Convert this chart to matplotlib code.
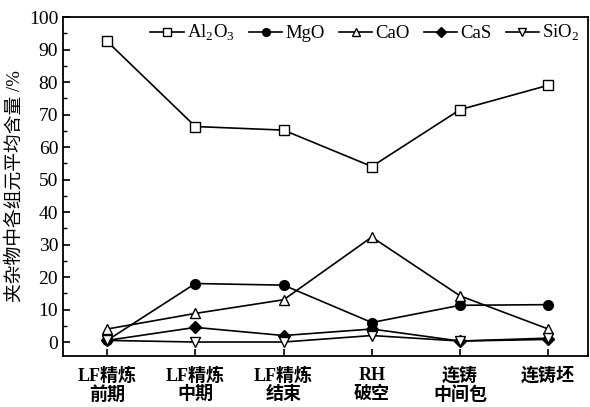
import matplotlib
matplotlib.use("Agg")
import matplotlib.pyplot as plt

plt.rcParams['font.family'] = ['Liberation Serif', 'Noto Sans CJK SC']
plt.rcParams['mathtext.fontset'] = 'custom'
plt.rcParams['mathtext.rm'] = 'Liberation Serif'

categories = ['LF精炼\n前期', 'LF精炼\n中期', 'LF精炼\n结束', 'RH\n破空', '连铸\n中间包', '连铸坯']
al2o3 = [92.5, 66.3, 65.2, 54.0, 71.5, 79.0]
mgo = [0.5, 18.0, 17.5, 6.0, 11.3, 11.5]
cao = [4.0, 8.8, 13.0, 32.3, 14.2, 4.0]
cas = [0.5, 4.5, 2.0, 4.0, 0.3, 0.8]
sio2 = [0.5, 0.0, 0.0, 2.0, 0.3, 1.2]
yticks = [0, 10, 20, 30, 40, 50, 60, 70, 80, 90, 100]

fig = plt.figure(figsize=(5.9, 4.07), dpi=100)
ax = fig.add_axes([63/590, 1 - 356/407, (588-63)/590, (356-17)/407])
x = list(range(len(categories)))
kw = dict(color='black', lw=1.2, ms=7, mec='black')
ax.plot(x, al2o3, marker='s', mfc='white', label=r'Al$_2$O$_3$', **kw)
ax.plot(x, mgo, marker='o', mfc='black', label='MgO', **kw)
ax.plot(x, cao, marker='^', mfc='white', label='CaO', **kw)
ax.plot(x, cas, marker='D', mfc='black', label='CaS', **{**kw, 'ms': 6.5})
ax.plot(x, sio2, marker='v', mfc='white', label=r'SiO$_2$', **kw)

ax.set_xlim(-0.5, 5.45)
ax.set_ylim(-4.3, 100)
ax.set_yticks(yticks)
ax.set_yticks([v + 5 for v in yticks[:-1]], minor=True)
ax.set_xticks(x)
ax.set_xticklabels(categories, fontsize=13, fontweight='bold', linespacing=1.1)
ax.tick_params(axis='y', labelsize=14, direction='in', length=5, width=1.2)
ax.tick_params(axis='y', which='minor', direction='in', length=3, width=1)
ax.tick_params(axis='x', direction='in', length=5, width=1.2, pad=8)
for s in ax.spines.values():
    s.set_linewidth(1.3)
ax.set_ylabel('夹杂物中各组元平均含量 /%', fontsize=13.5, labelpad=4)

ax.legend(loc='upper right', bbox_to_anchor=(1.005, 1.015), ncol=5, frameon=False,
          fontsize=13.5, handlelength=1.8, handletextpad=0.15, columnspacing=0.75,
          markerscale=0.8, borderaxespad=0.2)
fig.savefig('out.png', dpi=100)
